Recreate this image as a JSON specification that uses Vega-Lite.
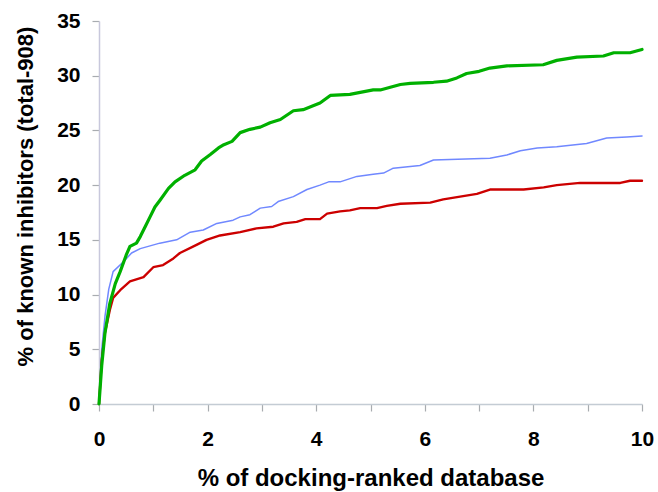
{
  "$schema": "https://vega.github.io/schema/vega-lite/v6.json",
  "width": 543,
  "height": 383,
  "autosize": "none",
  "padding": {"left": 99, "top": 21, "right": 16, "bottom": 88},
  "background": "white",
  "config": {"view": {"stroke": null}, "font": "Liberation Sans"},
  "datasets": {
    "curves": [
      {"s": "blue", "x": 0, "y": 0}, {"s": "blue", "x": 0.05, "y": 5}, {"s": "blue", "x": 0.11, "y": 8.0}, {"s": "blue", "x": 0.18, "y": 10.5}, {"s": "blue", "x": 0.26, "y": 12.1}, {"s": "blue", "x": 0.45, "y": 13.0}, {"s": "blue", "x": 0.6, "y": 13.8}, {"s": "blue", "x": 0.76, "y": 14.2}, {"s": "blue", "x": 1.12, "y": 14.7}, {"s": "blue", "x": 1.43, "y": 15.0}, {"s": "blue", "x": 1.68, "y": 15.7}, {"s": "blue", "x": 1.92, "y": 15.9}, {"s": "blue", "x": 2.17, "y": 16.5}, {"s": "blue", "x": 2.47, "y": 16.8}, {"s": "blue", "x": 2.6, "y": 17.1}, {"s": "blue", "x": 2.78, "y": 17.3}, {"s": "blue", "x": 2.97, "y": 17.9}, {"s": "blue", "x": 3.18, "y": 18.05}, {"s": "blue", "x": 3.3, "y": 18.5}, {"s": "blue", "x": 3.58, "y": 18.95}, {"s": "blue", "x": 3.83, "y": 19.6}, {"s": "blue", "x": 4.07, "y": 20.0}, {"s": "blue", "x": 4.23, "y": 20.3}, {"s": "blue", "x": 4.44, "y": 20.3}, {"s": "blue", "x": 4.75, "y": 20.8}, {"s": "blue", "x": 5.05, "y": 21.0}, {"s": "blue", "x": 5.24, "y": 21.1}, {"s": "blue", "x": 5.42, "y": 21.55}, {"s": "blue", "x": 5.91, "y": 21.8}, {"s": "blue", "x": 6.16, "y": 22.3}, {"s": "blue", "x": 7.2, "y": 22.45}, {"s": "blue", "x": 7.51, "y": 22.75}, {"s": "blue", "x": 7.76, "y": 23.15}, {"s": "blue", "x": 8.07, "y": 23.4}, {"s": "blue", "x": 8.43, "y": 23.5}, {"s": "blue", "x": 8.98, "y": 23.8}, {"s": "blue", "x": 9.35, "y": 24.3}, {"s": "blue", "x": 9.72, "y": 24.4}, {"s": "blue", "x": 10, "y": 24.5},
      {"s": "red", "x": 0, "y": 0}, {"s": "red", "x": 0.05, "y": 4}, {"s": "red", "x": 0.11, "y": 6.5}, {"s": "red", "x": 0.2, "y": 8.6}, {"s": "red", "x": 0.26, "y": 9.7}, {"s": "red", "x": 0.39, "y": 10.4}, {"s": "red", "x": 0.57, "y": 11.2}, {"s": "red", "x": 0.82, "y": 11.6}, {"s": "red", "x": 1.0, "y": 12.5}, {"s": "red", "x": 1.18, "y": 12.7}, {"s": "red", "x": 1.37, "y": 13.3}, {"s": "red", "x": 1.49, "y": 13.8}, {"s": "red", "x": 1.74, "y": 14.4}, {"s": "red", "x": 1.98, "y": 15.0}, {"s": "red", "x": 2.23, "y": 15.4}, {"s": "red", "x": 2.6, "y": 15.7}, {"s": "red", "x": 2.9, "y": 16.05}, {"s": "red", "x": 3.21, "y": 16.2}, {"s": "red", "x": 3.4, "y": 16.5}, {"s": "red", "x": 3.64, "y": 16.65}, {"s": "red", "x": 3.8, "y": 16.9}, {"s": "red", "x": 4.07, "y": 16.9}, {"s": "red", "x": 4.2, "y": 17.4}, {"s": "red", "x": 4.44, "y": 17.6}, {"s": "red", "x": 4.62, "y": 17.7}, {"s": "red", "x": 4.81, "y": 17.9}, {"s": "red", "x": 5.12, "y": 17.9}, {"s": "red", "x": 5.3, "y": 18.1}, {"s": "red", "x": 5.55, "y": 18.3}, {"s": "red", "x": 6.1, "y": 18.4}, {"s": "red", "x": 6.34, "y": 18.7}, {"s": "red", "x": 6.96, "y": 19.2}, {"s": "red", "x": 7.2, "y": 19.6}, {"s": "red", "x": 7.82, "y": 19.6}, {"s": "red", "x": 8.19, "y": 19.8}, {"s": "red", "x": 8.43, "y": 20.0}, {"s": "red", "x": 8.86, "y": 20.2}, {"s": "red", "x": 9.6, "y": 20.2}, {"s": "red", "x": 9.78, "y": 20.4}, {"s": "red", "x": 10, "y": 20.4},
      {"s": "green", "x": 0, "y": 0}, {"s": "green", "x": 0.05, "y": 3.5}, {"s": "green", "x": 0.11, "y": 6.5}, {"s": "green", "x": 0.2, "y": 9.2}, {"s": "green", "x": 0.3, "y": 11.0}, {"s": "green", "x": 0.39, "y": 12.1}, {"s": "green", "x": 0.5, "y": 13.6}, {"s": "green", "x": 0.57, "y": 14.4}, {"s": "green", "x": 0.69, "y": 14.7}, {"s": "green", "x": 0.76, "y": 15.3}, {"s": "green", "x": 0.85, "y": 16.2}, {"s": "green", "x": 0.94, "y": 17.1}, {"s": "green", "x": 1.03, "y": 18.0}, {"s": "green", "x": 1.12, "y": 18.6}, {"s": "green", "x": 1.28, "y": 19.7}, {"s": "green", "x": 1.4, "y": 20.3}, {"s": "green", "x": 1.58, "y": 20.9}, {"s": "green", "x": 1.77, "y": 21.4}, {"s": "green", "x": 1.89, "y": 22.2}, {"s": "green", "x": 2.05, "y": 22.8}, {"s": "green", "x": 2.2, "y": 23.4}, {"s": "green", "x": 2.3, "y": 23.7}, {"s": "green", "x": 2.45, "y": 24.0}, {"s": "green", "x": 2.6, "y": 24.8}, {"s": "green", "x": 2.78, "y": 25.1}, {"s": "green", "x": 2.97, "y": 25.3}, {"s": "green", "x": 3.15, "y": 25.7}, {"s": "green", "x": 3.34, "y": 26.0}, {"s": "green", "x": 3.58, "y": 26.8}, {"s": "green", "x": 3.76, "y": 26.9}, {"s": "green", "x": 3.92, "y": 27.2}, {"s": "green", "x": 4.07, "y": 27.5}, {"s": "green", "x": 4.26, "y": 28.2}, {"s": "green", "x": 4.62, "y": 28.3}, {"s": "green", "x": 5.05, "y": 28.7}, {"s": "green", "x": 5.18, "y": 28.7}, {"s": "green", "x": 5.55, "y": 29.2}, {"s": "green", "x": 5.73, "y": 29.3}, {"s": "green", "x": 6.16, "y": 29.4}, {"s": "green", "x": 6.4, "y": 29.5}, {"s": "green", "x": 6.59, "y": 29.8}, {"s": "green", "x": 6.77, "y": 30.2}, {"s": "green", "x": 7.0, "y": 30.4}, {"s": "green", "x": 7.2, "y": 30.7}, {"s": "green", "x": 7.51, "y": 30.9}, {"s": "green", "x": 8.18, "y": 31.0}, {"s": "green", "x": 8.43, "y": 31.4}, {"s": "green", "x": 8.8, "y": 31.7}, {"s": "green", "x": 9.29, "y": 31.8}, {"s": "green", "x": 9.48, "y": 32.1}, {"s": "green", "x": 9.78, "y": 32.1}, {"s": "green", "x": 10, "y": 32.4}
    ]
  },
  "data": {"name": "curves"},
  "mark": {"type": "line", "strokeCap": "round", "strokeJoin": "round"},
  "encoding": {
    "x": {
      "field": "x", "type": "quantitative",
      "scale": {"domain": [0, 10], "nice": false, "zero": false},
      "axis": {
        "values": [0, 1, 2, 3, 4, 5, 6, 7, 8, 9, 10],
        "labelExpr": "datum.value % 2 == 0 ? datum.label : ''",
        "grid": false,
        "domainColor": "#c4ccd4", "domainWidth": 1.5,
        "tickColor": "#a8acb0", "tickSize": 7, "tickWidth": 1.2,
        "labelFont": "Liberation Sans", "labelFontSize": 21, "labelFontWeight": "bold", "labelColor": "black",
        "labelPadding": 17, "labelFlush": false, "labelOverlap": false,
        "title": "% of docking-ranked database",
        "titleFont": "Liberation Sans", "titleFontSize": 24, "titleFontWeight": "bold", "titleColor": "black",
        "titleBaseline": "alphabetic", "titleY": 81
      }
    },
    "y": {
      "field": "y", "type": "quantitative",
      "scale": {"domain": [0, 35], "nice": false},
      "axis": {
        "values": [0, 5, 10, 15, 20, 25, 30, 35],
        "grid": false,
        "domainColor": "#c8c8dc", "domainWidth": 1.5,
        "tickColor": "#a8acb0", "tickSize": 7, "tickWidth": 1.2,
        "labelFont": "Liberation Sans", "labelFontSize": 21, "labelFontWeight": "bold", "labelColor": "black",
        "labelPadding": 12, "labelOverlap": false,
        "title": "% of known inhibitors (total-908)",
        "titleFont": "Liberation Sans", "titleFontSize": 22, "titleFontWeight": "bold", "titleColor": "black",
        "titleAngle": -90, "titleBaseline": "alphabetic", "titleAlign": "center",
        "titleX": -67, "titleY": 175
      }
    },
    "color": {
      "field": "s", "type": "nominal",
      "scale": {"domain": ["blue", "red", "green"], "range": ["#7088ff", "#cc0000", "#00b000"]},
      "legend": null
    },
    "strokeWidth": {
      "field": "s", "type": "nominal",
      "scale": {"domain": ["blue", "red", "green"], "range": [1.5, 3.2, 3.6]},
      "legend": null
    }
  }
}
